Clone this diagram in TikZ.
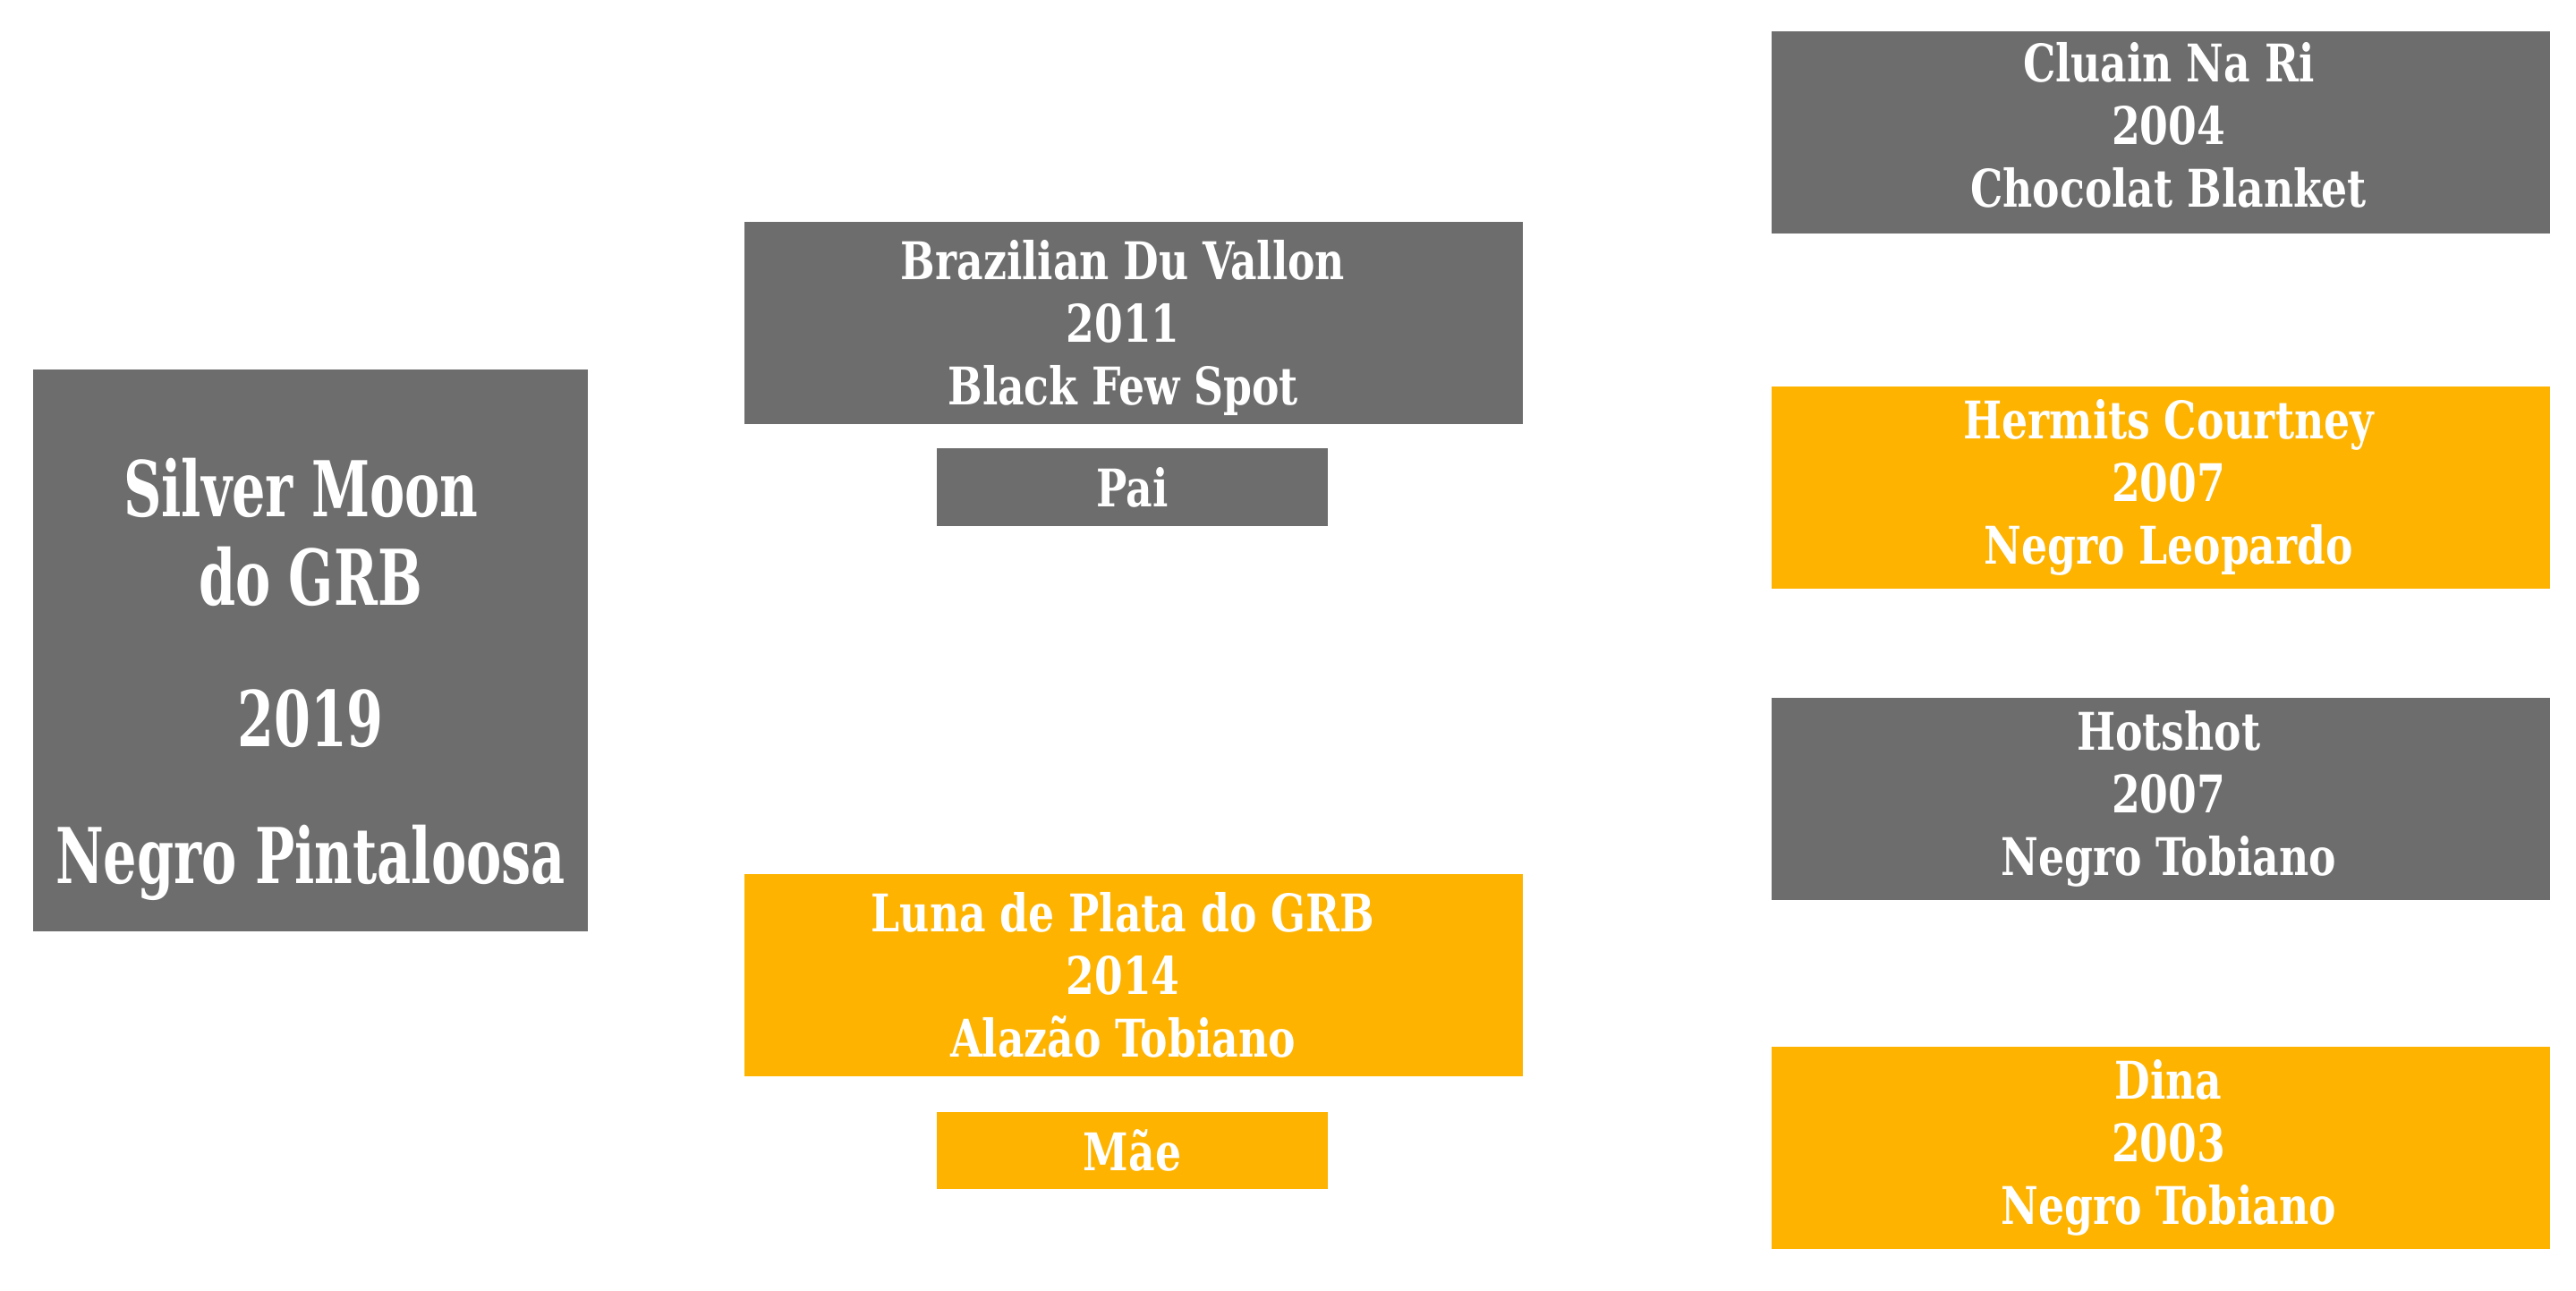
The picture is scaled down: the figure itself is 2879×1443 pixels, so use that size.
\documentclass[tikz,border=0pt]{standalone}
\usepackage{fontspec}
\newfontfamily\slab{DejaVu Serif Condensed}[FakeStretch=0.875]
\newfontfamily\slabfoal{DejaVu Serif Condensed}[FakeStretch=0.76]
\usepackage{xcolor}
\usepackage{tikz}
\definecolor{bg}{HTML}{FFFFFF}
\definecolor{male}{HTML}{6D6D6D}
\definecolor{female}{HTML}{FDB300}
\definecolor{text}{HTML}{FFFFFF}
% #1 horizontal nudge, #2 vertical nudge, #3 lines
\newcommand\horselines[3]{\raisebox{#2}[\height][\depth]{\hspace*{#1}\begin{tabular}{@{}c@{}}#3\end{tabular}\hspace*{-#1}}}
\tikzset{
  horse/.style={inner sep=0pt, text=text, font=\slab\bfseries\fontsize{29}{35}\selectfont, minimum width=435pt, minimum height=113pt},
  sirebox/.style={fill=male},
  dambox/.style={fill=female},
  tag/.style={horse, minimum width=218.5pt, minimum height=43pt},
  foalbox/.style={horse, align=center, fill=male, minimum width=310pt, minimum height=314pt, font=\slabfoal\bfseries\fontsize{43}{49.5}\selectfont},
}

\begin{document}
\begin{tikzpicture}[x=0.5pt, y=-0.5pt]
  \useasboundingbox[fill=bg] (0,0) rectangle (2879,1443);
  % foal
  \node[foalbox] (foal) at (347,727) {\rule{0pt}{65pt}Silver Moon\kern0.25em\\do GRB\\[29.5pt]2019\\[27pt]Negro Pintaloosa};
  % parents
  \node[horse, sirebox] (sire) at (1267,361) {\horselines{-6pt}{-3.7pt}{Brazilian Du Vallon\\2011\\Black Few Spot}};
  \node[tag, sirebox] (pai) at (1265.5,544.5) {Pai};
  \node[horse, dambox] (dam) at (1267,1090) {\horselines{-6pt}{-3.7pt}{Luna de Plata do GRB\\2014\\Alazão Tobiano}};
  \node[tag, dambox] (mae) at (1265.5,1285.5) {Mãe};
  % grandparents
  \node[horse, sirebox] (ss) at (2414.5,148) {\horselines{4.6pt}{0pt}{Cluain Na Ri\\2004\\Chocolat Blanket}};
  \node[horse, dambox] (sd) at (2414.5,545) {\horselines{4.6pt}{-0.9pt}{Hermits Courtney\\2007\\Negro Leopardo}};
  \node[horse, sirebox] (ds) at (2414.5,893) {\horselines{4.6pt}{-0.9pt}{Hotshot\\2007\\Negro Tobiano}};
  \node[horse, dambox] (dd) at (2414.5,1282.5) {\horselines{4.6pt}{-0.9pt}{Dina\\2003\\Negro Tobiano}};
\end{tikzpicture}
\end{document}
